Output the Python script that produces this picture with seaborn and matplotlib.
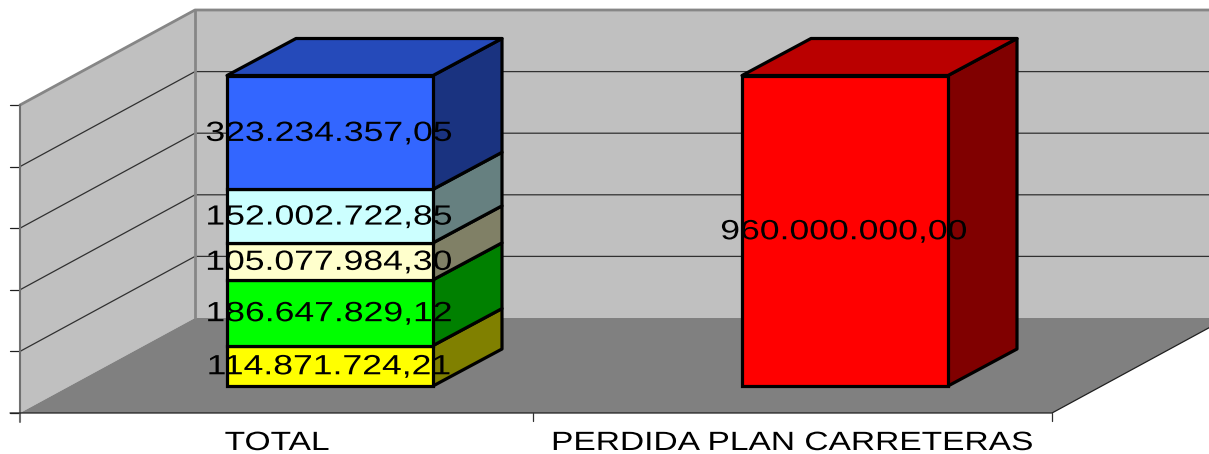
import numpy as np
import pandas as pd
import seaborn as sns
import matplotlib
matplotlib.use("Agg")
import matplotlib.pyplot as plt
from matplotlib.colors import to_rgb
from matplotlib.patches import Polygon
from matplotlib.patheffects import AbstractPathEffect
from matplotlib.transforms import Affine2D

# values as printed on the chart, bottom to top of each column
categorias = ["TOTAL", "PERDIDA PLAN CARRETERAS"]
serie_cat = ["TOTAL", "TOTAL", "TOTAL", "TOTAL", "TOTAL", "PERDIDA PLAN CARRETERAS"]
valores = [114871724.21, 186647829.12, 105077984.30, 152002722.85, 323234357.05, 960000000.00]
etiquetas = ["114.871.724,21", "186.647.829,12", "105.077.984,30",
             "152.002.722,85", "323.234.357,05", "960.000.000,00"]
colores = ["#FFFF00", "#00FF00", "#FFFFCC", "#CCFFFF", "#3366FF", "#FF0000"]
ticks_valor = [0, 0.2, 0.4, 0.6, 0.8, 1.0]

W, H = 1209, 454
# pixel geometry of the fake 3D box
X0, Y0 = 20, 413      # front corner of the floor
DX, DY = 175, 95      # depth of the box
ALTO = 308            # height of the walls
X_FIN = 1052          # front right corner of the floor
X_MEDIO = 533         # tick between the two categories
BAR_DX, BAR_DY = 69, 37  # depth of the columns
SEP = 515             # px between the two columns
ALTO_BAR = 310.5


class Estirar(AbstractPathEffect):
    """The source chart has horizontally stretched lettering."""
    def __init__(self, sx):
        super().__init__()
        self.sx = sx

    def draw_path(self, renderer, gc, tpath, affine, rgbFace=None):
        ext = tpath.get_extents()
        cx = (ext.x0 + ext.x1) / 2
        t = Affine2D().translate(-cx, 0).scale(self.sx, 1).translate(cx, 0)
        renderer.draw_path(gc, tpath, t + affine, rgbFace)


sns.set_style("white")
plt.rcParams["font.family"] = ["Liberation Sans", "DejaVu Sans"]

fig = plt.figure(figsize=(W / 100, H / 100), dpi=100)
ax = fig.add_axes([0, 0, 1, 1])
# image pixels, y going down, for the box decoration
pix = Affine2D().scale(1, -1).translate(0, H)

# walls and floor
ax.add_patch(Polygon([(X0 + DX, Y0 - DY - ALTO), (W + 5, Y0 - DY - ALTO), (W + 5, Y0 - DY), (X0 + DX, Y0 - DY)],
                     fc="#C0C0C0", ec="none", transform=pix, zorder=0))
ax.add_patch(Polygon([(X0, Y0 - ALTO), (X0 + DX, Y0 - DY - ALTO), (X0 + DX, Y0 - DY), (X0, Y0)],
                     fc="#C0C0C0", ec="none", transform=pix, zorder=0))
ax.add_patch(Polygon([(X0, Y0), (X0 + DX, Y0 - DY), (W + 5, Y0 - DY), (X_FIN + DX, Y0 - DY), (X_FIN, Y0)],
                     fc="#808080", ec="none", transform=pix, zorder=0))

# gridlines and axis ticks
for t in ticks_valor:
    y = Y0 - t * ALTO
    if 0 < t < 1:
        ax.plot([X0, X0 + DX, W + 5], [y, y - DY, y - DY], color="#303030", lw=0.9, transform=pix, zorder=0.5)
    ax.plot([X0 - 10, X0], [y, y], color="#202020", lw=0.9, transform=pix, zorder=0.5)

# grey wall edges
ax.plot([X0, X0 + DX, W + 5], [Y0 - ALTO, Y0 - DY - ALTO, Y0 - DY - ALTO], color="#868686", lw=2, transform=pix, zorder=0.6)
ax.plot([X0 + DX, X0 + DX], [Y0 - DY - ALTO, Y0 - DY], color="#868686", lw=2, transform=pix, zorder=0.6)
ax.plot([X0, X0], [Y0 - ALTO, Y0 + 9], color="#707070", lw=1.5, transform=pix, zorder=0.6)

# floor edges
ax.plot([X0 - 10, X_FIN, X_FIN + DX], [Y0, Y0, Y0 - DY], color="#202020", lw=0.9, transform=pix, zorder=0.6)
for x in [X_MEDIO, X_FIN]:
    ax.plot([x, x], [Y0, Y0 + 8], color="#303030", lw=0.9, transform=pix, zorder=0.6)

df = pd.DataFrame({"categoria": serie_cat, "valor": valores})
df["parte"] = df["valor"] / df.groupby("categoria")["valor"].transform("sum")

dx = BAR_DX / SEP
dy = BAR_DY / ALTO_BAR
base = {c: 0.0 for c in categorias}
for i, fila in df.iterrows():
    sub = df.loc[[i]]
    abajo = base[fila["categoria"]]
    sns.barplot(data=sub, x="categoria", y="parte", order=categorias, color=colores[i],
                saturation=1, width=0.4, bottom=abajo, errorbar=None,
                edgecolor="black", linewidth=2.3, ax=ax, zorder=2)
    rect = ax.patches[-1]
    x0, x1 = rect.get_x(), rect.get_x() + rect.get_width()
    y0, y1 = rect.get_y(), rect.get_y() + rect.get_height()
    rgb = np.array(to_rgb(colores[i]))
    # right side of the segment
    ax.add_patch(Polygon([(x1, y0), (x1 + dx, y0 + dy), (x1 + dx, y1 + dy), (x1, y1)],
                         fc=rgb * 0.5, ec="black", lw=2.3, joinstyle="round", zorder=1.9))
    base[fila["categoria"]] = abajo + fila["parte"]
    # top of the column
    if i == df[df["categoria"] == fila["categoria"]].index[-1]:
        ax.add_patch(Polygon([(x0, y1), (x0 + dx, y1 + dy), (x1 + dx, y1 + dy), (x1, y1)],
                             fc=rgb * 0.73, ec="black", lw=2.3, joinstyle="round", zorder=1.9))
    ax.text((x0 + x1) / 2 - 1 / SEP, (y0 + y1) / 2 + 1.5 / ALTO_BAR, etiquetas[i], ha="center", va="center_baseline",
            fontsize=20, color="black", zorder=5, path_effects=[Estirar(1.28)])

# front plane of the columns mapped to pixels
cx0 = 330
ax.set_xlim(-cx0 / SEP, (W - cx0) / SEP)
ax.set_ylim((386 - H) / ALTO_BAR, 386 / ALTO_BAR)
ax.set_axis_off()

# category labels sit left of the columns because of the perspective
for i, c in enumerate(categorias):
    ax.text(i - 53 / SEP, (386 - 443) / ALTO_BAR, c, ha="center", va="center",
            fontsize=19, color="black", path_effects=[Estirar(1.27)])

fig.savefig("out.png", dpi=100)
